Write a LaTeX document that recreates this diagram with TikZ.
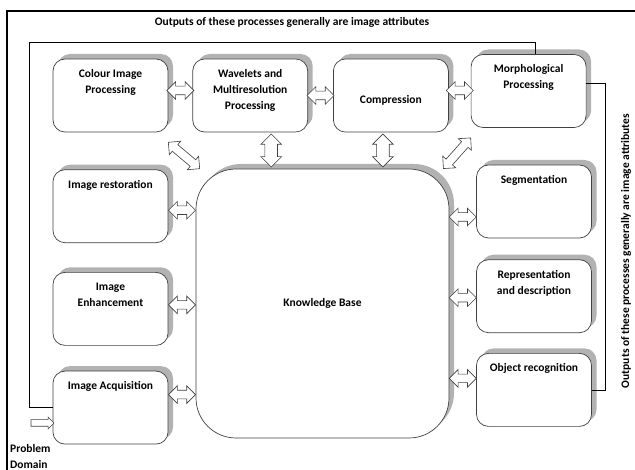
\documentclass[tikz,border=0pt]{standalone}
\usepackage{fontspec}
\setmainfont{Carlito}
\usepackage{tikz}
\usetikzlibrary{positioning,shapes.arrows,shadows}

\begin{document}
\begin{tikzpicture}[x=1pt,y=-1pt,
font=\bfseries\fontsize{11.5}{16}\selectfont,
box/.style={rectangle,rounded corners=12pt,draw=black!75,line width=0.7pt,fill=white,
minimum width=115pt,minimum height=73pt,inner sep=0pt,
copy shadow={shadow xshift=5pt,shadow yshift=5pt,fill=black!30,draw=none}},
lbl/.style={anchor=north,align=center,inner sep=0pt,yshift=-10.5pt},
hdbl/.style={double arrow,draw=black!75,fill=white,line width=0.6pt,sloped,
inner xsep=0pt,inner ysep=4pt,double arrow head extend=4.5pt,minimum height=27pt},
vdbl/.style={hdbl,inner ysep=6pt,double arrow head extend=4pt,minimum height=33pt},
ddbl/.style={hdbl,minimum height=41pt},
sarrow/.style={single arrow,draw=black!75,fill=white,line width=0.6pt,sloped,
inner xsep=0pt,inner ysep=3pt,single arrow head extend=2.5pt,minimum height=23pt}]
\useasboundingbox (0,0) rectangle (635,470);
\draw[line width=2pt] (7,470) -- (7,11) -- (635,11);
\node (toptitle) at (292,22) {Outputs of these processes generally are image attributes};
\node[rotate=90] (sidetitle) at (626,251) {Outputs of these processes generally are image attributes};

\node[box,label={[lbl]north:{Colour Image\\Processing}}] (colour) at (110.5,95.5) {};
\node[box,right=24pt of colour,label={[lbl]north:{Wavelets and\\Multiresolution\\Processing}}] (wavelets) {};
\node[box,right=25pt of wavelets,label={[lbl,yshift=-26pt]north:Compression}] (compression) {};
\node[box,right=22pt of compression,yshift=4.5pt,label={[lbl]north:{Morphological\\Processing}}] (morph) {};
\node[box,below=37pt of colour,label={[lbl]north:Image restoration}] (restoration) {};
\node[box,below=29pt of restoration,label={[lbl]north:{Image\\Enhancement}}] (enhancement) {};
\node[box,below=25pt of enhancement,label={[lbl]north:Image Acquisition}] (acquisition) {};
\node[box,label={[lbl]north:Segmentation}] (segmentation) at (534,201.5) {};
\node[box,below=21pt of segmentation,label={[lbl]north:{Representation\\and description}}] (representation) {};
\node[box,below=20pt of representation,label={[lbl]north:Object recognition}] (recognition) {};
\node[box,rounded corners=40pt,minimum width=253pt,minimum height=269pt] (knowledge) at (322.5,303.5) {Knowledge Base};

\coordinate (leftrail) at (29,42);
\coordinate (rightrail) at (605,0);
\draw[line width=0.7pt] (acquisition.west) -| (leftrail) -| ([xshift=7pt]morph.north);
\draw[line width=0.7pt] ([yshift=8pt]morph.east) -| (rightrail |- recognition.east) -- (recognition.east);

\path ([yshift=5pt]colour.east) -- node[hdbl]{} ([yshift=5pt]wavelets.west);
\path (wavelets) -- node[hdbl]{} (compression);
\path ([yshift=5pt]compression.east) -- node[hdbl]{} ([yshift=5pt]compression.east -| morph.west);
\path ([xshift=21pt]wavelets.south) -- node[vdbl]{} ([xshift=21pt]wavelets.south |- knowledge.north);
\path ([xshift=-8pt]compression.south) -- node[vdbl]{} ([xshift=-8pt]compression.south |- knowledge.north);
\path ([yshift=-10pt]colour.south east) -- node[ddbl]{} ([xshift=4pt]knowledge.north west);
\path ([xshift=-6pt]knowledge.north east) -- node[ddbl]{} ([yshift=-10pt]morph.south west);

\path ([yshift=-4pt]restoration.east) -- node[hdbl]{} ([yshift=-4pt]restoration.east -| knowledge.west);
\path ([yshift=4pt]enhancement.east) -- node[hdbl]{} ([yshift=4pt]enhancement.east -| knowledge.west);
\path ([yshift=13pt]acquisition.east) -- node[hdbl]{} ([yshift=13pt]acquisition.east -| knowledge.west);
\path ([yshift=-15.5pt]segmentation.west -| knowledge.east) -- node[hdbl]{} ([yshift=-15.5pt]segmentation.west);
\path ([yshift=-1.5pt]representation.west -| knowledge.east) -- node[hdbl]{} ([yshift=-1.5pt]representation.west);
\path ([yshift=11.5pt]recognition.west -| knowledge.east) -- node[hdbl]{} ([yshift=11.5pt]recognition.west);

\coordinate (problem) at (29,423);
\path (problem) -- node[sarrow]{} (problem -| acquisition.west);
\node[anchor=north west,align=left,inner sep=0pt] (domain) at (10,444) {Problem\\Domain};
\end{tikzpicture}
\end{document}
